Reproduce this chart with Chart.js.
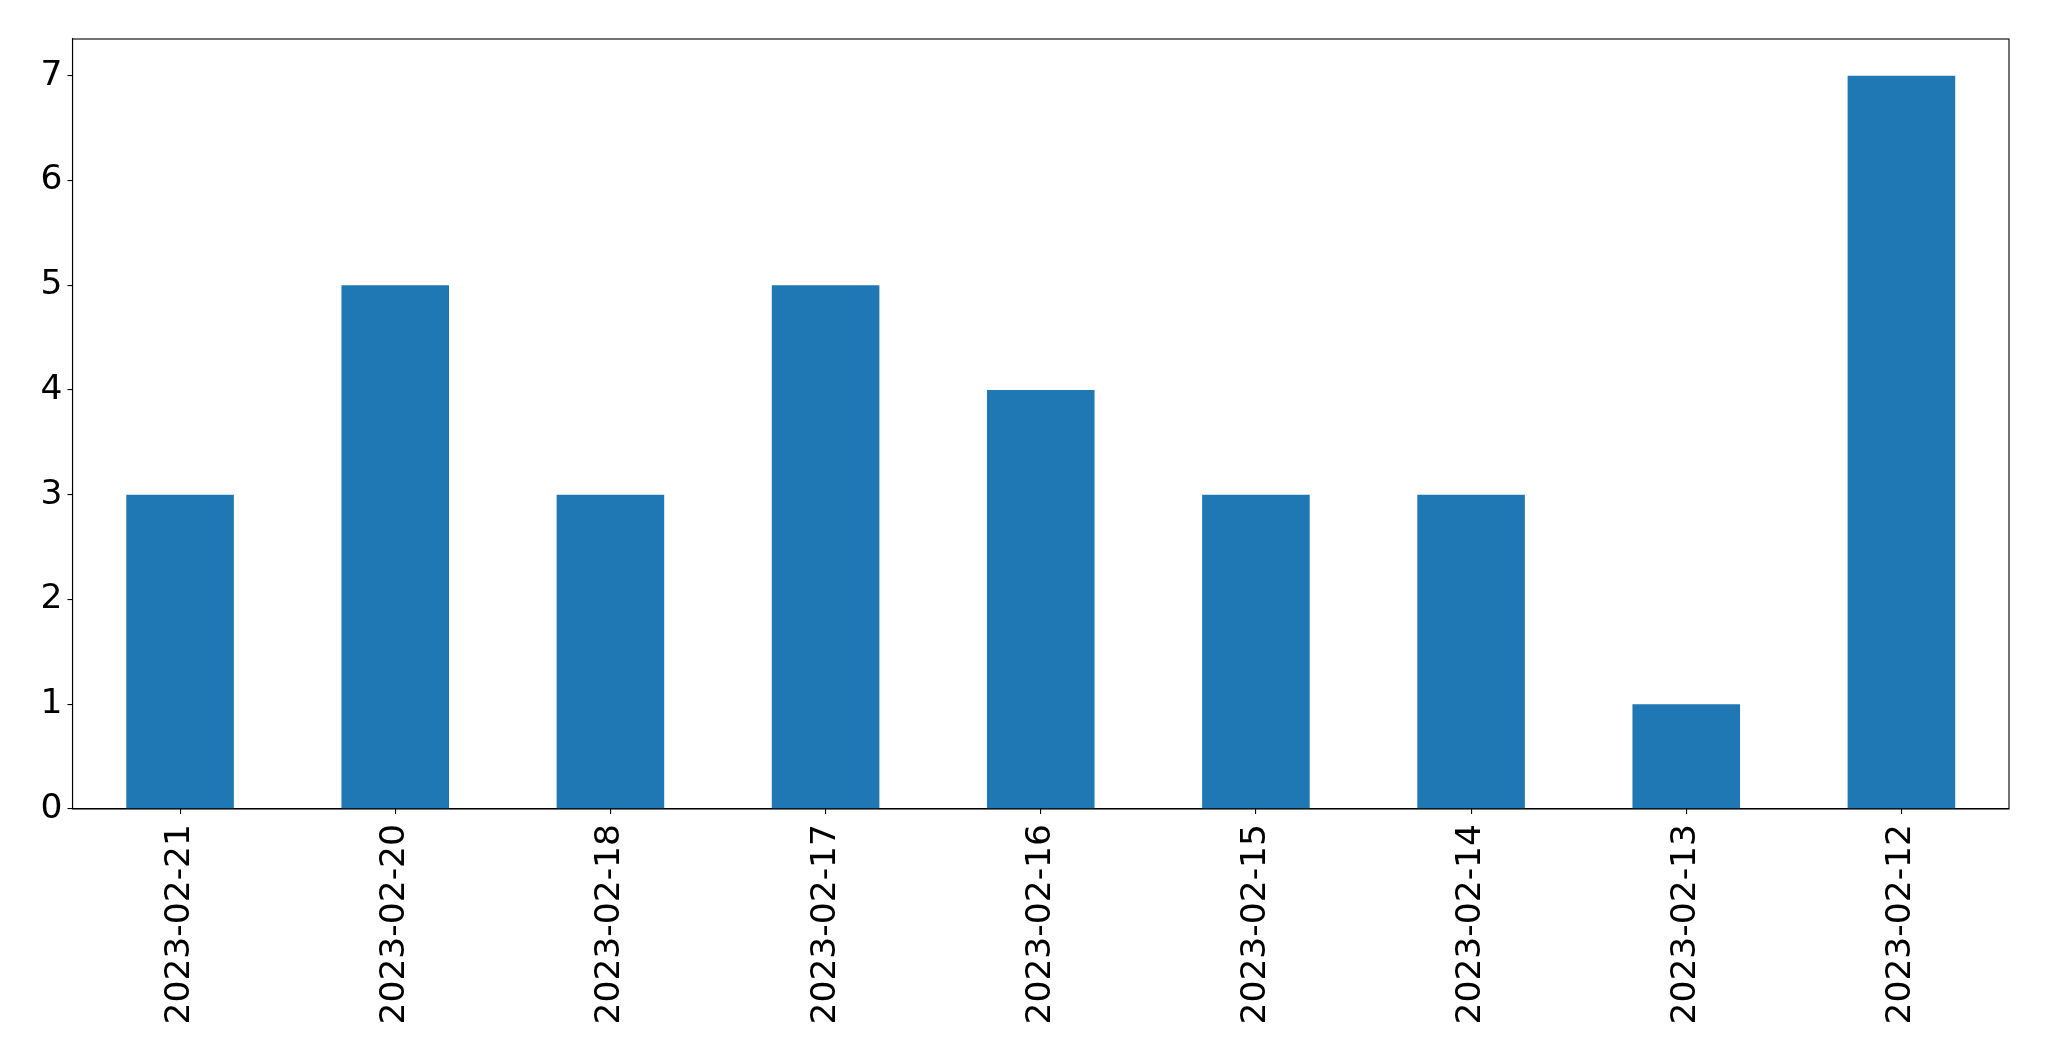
<!DOCTYPE html>
<html>
<head>
<meta charset="utf-8">
<script src="https://cdn.jsdelivr.net/npm/chart.js@4/dist/chart.umd.min.js"></script>
<style>
html,body{margin:0;padding:0;background:#fff;}
#wrap{width:2049px;height:1061px;position:relative;}
</style>
</head>
<body>
<div id="wrap"><canvas id="c" width="2049" height="1061"></canvas></div>
<script>
const categories = ["2023-02-21","2023-02-20","2023-02-18","2023-02-17","2023-02-16","2023-02-15","2023-02-14","2023-02-13","2023-02-12"];
const counts = [3,5,3,5,4,3,3,1,7];
const yTicks = [0,1,2,3,4,5,6,7];
const yMax = 7.35;

const frame = {
  id:'frame',
  afterDraw(chart){
    const {ctx, chartArea:a} = chart;
    ctx.save();
    ctx.strokeStyle='#000';
    ctx.lineWidth=1.1;
    ctx.strokeRect(a.left, a.top, a.right-a.left, a.bottom-a.top);
    ctx.restore();
  }
};

new Chart(document.getElementById('c'), {
  type:'bar',
  data:{labels:categories, datasets:[{data:counts, backgroundColor:'#1f77b4', barPercentage:0.5, categoryPercentage:1.0, borderWidth:0}]},
  options:{
    responsive:false, animation:false,
    layout:{padding:{top:39, right:40, left:0, bottom:0}},
    plugins:{legend:{display:false}, tooltip:{enabled:false}},
    scales:{
      x:{
        offset:true,
        grid:{display:true, offset:false, drawOnChartArea:false, drawTicks:true, tickLength:5, color:'#000', lineWidth:1.1},
        border:{display:true, color:'#000', width:1.1},
        ticks:{color:'#000', font:{family:'DejaVu Sans', size:34.5}, minRotation:90, maxRotation:90, autoSkip:false, padding:10},
        afterFit(s){ s.height = 252; }
      },
      y:{
        min:0, max:yMax,
        grid:{display:true, drawOnChartArea:false, drawTicks:true, tickLength:5, color:'#000', lineWidth:1.1},
        border:{display:true, color:'#000', width:1.1},
        afterBuildTicks(s){ s.ticks = yTicks.map(v=>({value:v})); },
        ticks:{color:'#000', font:{family:'DejaVu Sans', size:34.5}, padding:5, includeBounds:false},
        afterFit(s){ s.width = 72.5; }
      }
    }
  },
  plugins:[frame]
});
</script>
</body>
</html>
